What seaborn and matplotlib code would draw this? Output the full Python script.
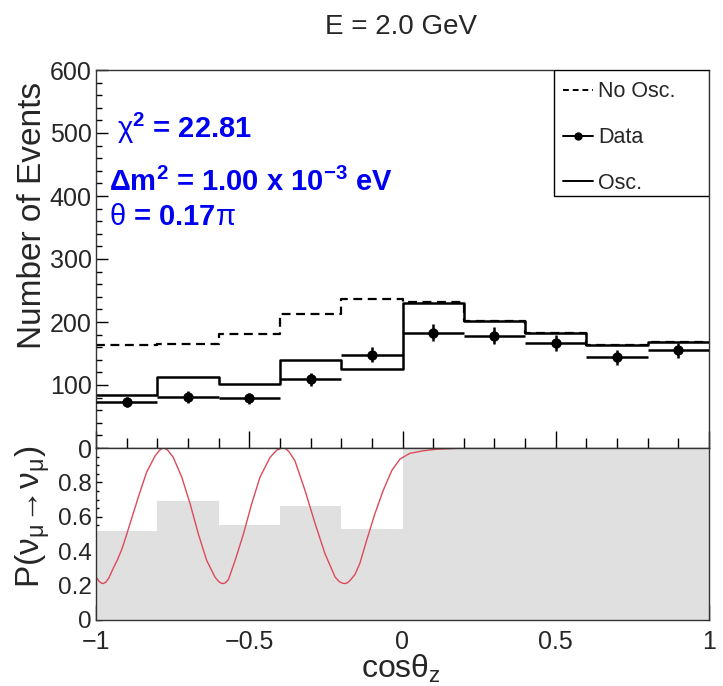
import numpy as np
import pandas as pd
import matplotlib
matplotlib.use("Agg")
import matplotlib.pyplot as plt
import seaborn as sns
from matplotlib.lines import Line2D
from matplotlib.patches import Rectangle
from matplotlib.ticker import MultipleLocator

# ---------------- data ----------------
bin_edges = [-1.0, -0.8, -0.6, -0.4, -0.2, 0.0, 0.2, 0.4, 0.6, 0.8, 1.0]
bin_centers = [-0.9, -0.7, -0.5, -0.3, -0.1, 0.1, 0.3, 0.5, 0.7, 0.9]
no_osc = [163, 165, 181, 212, 236, 232, 201, 183, 163, 168]
osc = [84, 113, 101, 139, 125, 230, 201, 183, 163, 168]
data = [73, 81, 79, 109, 148, 183, 178, 167, 144, 155]
data_err = [8.5, 9.0, 8.9, 10.4, 12.2, 13.5, 13.3, 12.9, 12.0, 12.4]
prob_ratio = [0.52, 0.69, 0.555, 0.66, 0.53, 1.0, 1.0, 1.0, 1.0, 1.0]

curve_cos = [-1.000, -0.990, -0.982, -0.976, -0.968, -0.958, -0.944, -0.930, -0.916, -0.903,
             -0.889, -0.862, -0.835, -0.807, -0.794, -0.786, -0.780, -0.773, -0.765, -0.748,
             -0.720, -0.693, -0.666, -0.639, -0.612, -0.600, -0.592, -0.585, -0.578, -0.568,
             -0.546, -0.519, -0.492, -0.465, -0.432, -0.410, -0.396, -0.389, -0.381, -0.370,
             -0.351, -0.318, -0.285, -0.253, -0.220, -0.206, -0.196, -0.188, -0.180, -0.170,
             -0.155, -0.139, -0.117, -0.090, -0.063, -0.035, -0.008, 0.024, 0.068, 0.112,
             0.200, 0.300]
curve_prob = [0.250, 0.225, 0.214, 0.212, 0.220, 0.245, 0.300, 0.350, 0.410, 0.480,
              0.560, 0.714, 0.859, 0.955, 0.984, 0.996, 1.000, 0.996, 0.985, 0.946,
              0.830, 0.676, 0.500, 0.347, 0.250, 0.224, 0.214, 0.212, 0.216, 0.235,
              0.347, 0.500, 0.676, 0.830, 0.946, 0.988, 0.998, 1.000, 0.996, 0.978,
              0.926, 0.753, 0.560, 0.386, 0.250, 0.223, 0.214, 0.212, 0.216, 0.232,
              0.265, 0.330, 0.463, 0.618, 0.753, 0.869, 0.936, 0.969, 0.984, 0.993,
              1.000, 1.000]

title_text = "E = 2.0 GeV"
legend_labels = ["No Osc.", "Data", "Osc."]

# ---------------- style ----------------
sns.set_style("ticks")
plt.rcParams["font.family"] = ["Liberation Sans", "DejaVu Sans"]
plt.rcParams["mathtext.fontset"] = "custom"
plt.rcParams["mathtext.rm"] = "Liberation Sans"
plt.rcParams["mathtext.it"] = "Liberation Sans:italic"
plt.rcParams["mathtext.bf"] = "Liberation Sans:bold"

W, H = 723, 686
fig = plt.figure(figsize=(W / 100, H / 100), dpi=100)
fig.patch.set_facecolor("white")

L, R = 96, 709
ax1 = fig.add_axes([L / W, 1 - 448 / H, (R - L) / W, (448 - 70) / H])
ax2 = fig.add_axes([L / W, 1 - 620 / H, (R - L) / W, (620 - 448) / H])

# ---------------- top panel ----------------
sns.histplot(x=bin_centers, weights=no_osc, bins=bin_edges, element="step", fill=False,
             color="black", linestyle=(0, (4, 2.5)), linewidth=1.6, ax=ax1)
sns.histplot(x=bin_centers, weights=osc, bins=bin_edges, element="step", fill=False,
             color="black", linewidth=1.8, ax=ax1)
ax1.errorbar(bin_centers, data, xerr=0.1, yerr=data_err, fmt="none", ecolor="black",
             elinewidth=1.8, capsize=0, zorder=4)
sns.scatterplot(x=bin_centers, y=data, color="black", s=55, marker="o",
                edgecolor="black", linewidth=0, ax=ax1, zorder=5)

ax1.set_xlim(-1, 1)
ax1.set_ylim(0, 600)
ax1.set_xlabel("")
ax1.set_ylabel("")
ax1.xaxis.set_major_locator(MultipleLocator(0.5))
ax1.xaxis.set_minor_locator(MultipleLocator(0.1))
ax1.yaxis.set_major_locator(MultipleLocator(100))
ax1.yaxis.set_minor_locator(MultipleLocator(20))
ax1.tick_params(axis="both", which="both", direction="in", top=False, right=False,
                width=1, color="black")
ax1.tick_params(axis="x", which="major", length=12, labelbottom=False)
ax1.tick_params(axis="x", which="minor", length=7)
ax1.tick_params(axis="y", which="major", length=8.5, labelsize=18, pad=3)
ax1.tick_params(axis="y", which="minor", length=4)
for s in ax1.spines.values():
    s.set_linewidth(1.0)
    s.set_color("#333333")

# legend box
ax1.add_patch(Rectangle(((554 - L) / (R - L), (448 - 196) / 378),
                        (R - 554) / (R - L), (196 - 70) / 378,
                        transform=ax1.transAxes, facecolor="white", edgecolor="black",
                        linewidth=1.0, zorder=6))
handles = [
    Line2D([], [], color="black", linestyle=(0, (3, 2)), linewidth=1.4),
    Line2D([], [], color="black", linewidth=1.4, marker="o", markersize=5),
    Line2D([], [], color="black", linewidth=1.4),
]
leg = ax1.legend(handles, legend_labels, loc="upper left",
                 bbox_to_anchor=((557 - L) / (R - L), 1 - 5 / 378),
                 frameon=False, fontsize=15.5, handlelength=1.35, handletextpad=0.25,
                 labelspacing=1.15, borderaxespad=0, borderpad=0.3)
leg.set_zorder(7)

# blue annotations
blue = "#0000f0"
fig.text(117 / W, 1 - 138 / H, r"$\mathrm{\chi}^{\mathbf{2}}$ = 22.81", color=blue,
         fontsize=21, fontweight="bold", ha="left", va="baseline")
fig.text(109 / W, 1 - 191 / H, r"$\mathbf{\Delta m^{2}}$ = 1.00 x 10$^{\mathbf{-3}}$ eV",
         color=blue, fontsize=21, fontweight="bold", ha="left", va="baseline")
fig.text(109 / W, 1 - 225 / H, r"$\mathrm{\theta}$ = 0.17$\mathrm{\pi}$", color=blue,
         fontsize=21, fontweight="bold", ha="left", va="baseline")

# ---------------- bottom panel ----------------
sns.histplot(x=bin_centers, weights=prob_ratio, bins=bin_edges, element="step", fill=True,
             color="#e0e0e0", alpha=1.0, linewidth=0, ax=ax2)
sns.lineplot(x=curve_cos, y=curve_prob, sort=False, estimator=None, color="#dc4a5a",
             linewidth=1.0, ax=ax2)

ax2.set_xlim(-1, 1)
ax2.set_ylim(0, 1)
ax2.set_xlabel("")
ax2.set_ylabel("")
ax2.set_xticks([-1, -0.5, 0, 0.5, 1], labels=["\u22121", "\u22120.5", "0", "0.5", "1"])
ax2.xaxis.set_minor_locator(MultipleLocator(0.1))
ax2.set_yticks([0, 0.2, 0.4, 0.6, 0.8], labels=["0", "0.2", "0.4", "0.6", "0.8"])
ax2.yaxis.set_minor_locator(MultipleLocator(0.05))
ax2.tick_params(axis="both", which="both", direction="in", top=False, right=False,
                width=1, color="black")
ax2.tick_params(axis="x", which="major", length=11, labelsize=18, pad=7)
ax2.tick_params(axis="x", which="minor", length=5)
ax2.tick_params(axis="y", which="major", length=4.5, labelsize=17.5, pad=3)
ax2.tick_params(axis="y", which="minor", length=2.5)
for s in ax2.spines.values():
    s.set_linewidth(1.0)
    s.set_color("#333333")

# ---------------- labels ----------------
fig.text(401 / W, 1 - 34 / H, title_text, fontsize=20, ha="center", va="baseline")
fig.text(33 / W, 1 - 215 / H, "Number of Events", rotation=90, fontsize=24,
         ha="center", va="center")
fig.text(33 / W, 1 - 517 / H, r"P($\mathrm{\nu_{\mu}\!\rightarrow\!\nu_{\mu}}$)", rotation=90,
         fontsize=24, ha="center", va="center")
fig.text(401 / W, 1 - 678 / H, r"cos$\mathrm{\theta_{z}}$", fontsize=23, ha="center",
         va="baseline")

fig.savefig("out.png", dpi=100, facecolor="white")
